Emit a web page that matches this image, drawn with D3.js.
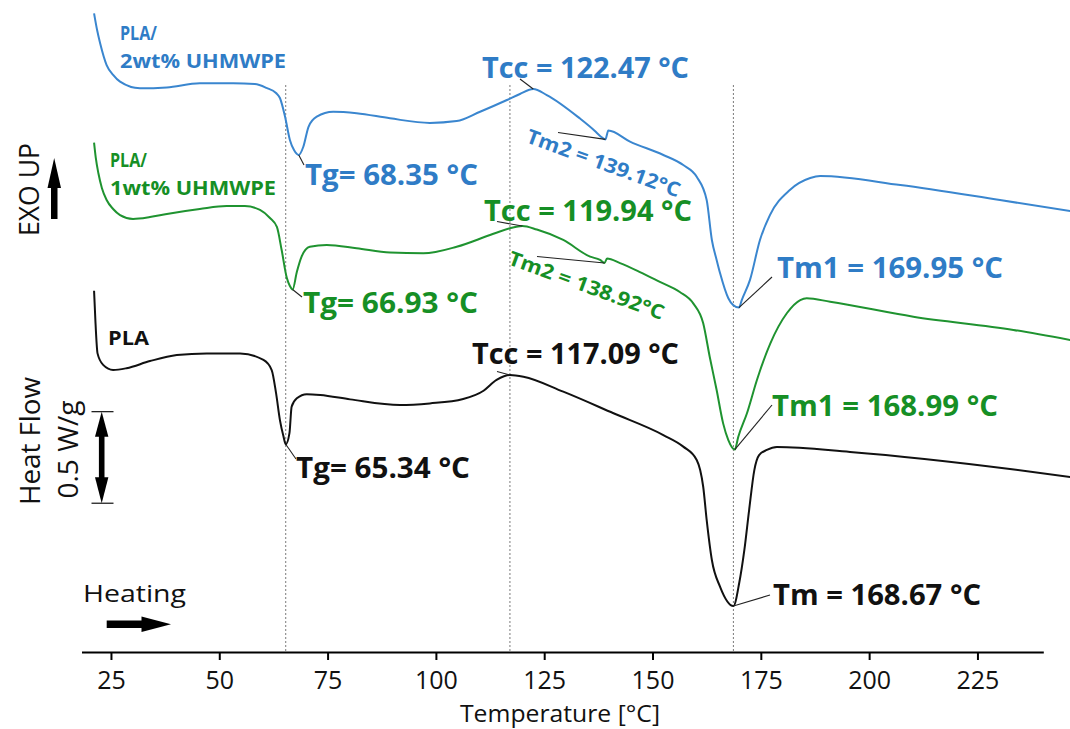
<!DOCTYPE html>
<html>
<head>
<meta charset="utf-8">
<script src="https://cdn.jsdelivr.net/npm/d3@7"></script>
<style>
  html, body { margin: 0; padding: 0; background: #fff; }
  svg { display: block; font-family: "Open Sans", "Noto Sans", sans-serif; }
</style>
</head>
<body>
<svg id="chart" width="1070" height="729"></svg>
<script>
// DSC heating curves, [temperature °C, heat flow W/g (stacked offset)]
const pla2wt = [
  [21.1,3.486],[21.8,3.395],[22.5,3.323],[24.0,3.204],[25.5,3.150],[27.1,3.113],[31.7,3.077],
  [37.9,3.082],[45.5,3.104],[53.2,3.104],[58.2,3.100],[60.9,3.079],[63.1,3.051],[64.0,3.024],
  [65.2,2.920],[66.3,2.795],[67.25,2.740],[68.35,2.713],[69.4,2.758],[70.6,2.867],[72.5,2.922],
  [76.3,2.949],[81.7,2.941],[89.4,2.913],[98.6,2.888],[104.8,2.898],[110.2,2.949],[116.4,3.013],
  [119.4,3.046],[122.47,3.073],[125.6,3.040],[133.2,2.913],[136.7,2.844],[137.9,2.817],
  [139.12,2.798],[139.8,2.846],[144.8,2.786],[152.5,2.713],[157.1,2.658],[160.2,2.594],
  [162.5,2.467],[163.7,2.249],[164.8,2.140],[165.6,2.067],[167.5,1.931],[168.6,1.894],
  [169.95,1.880],[170.6,1.921],[172.5,2.031],[174.8,2.249],[177.1,2.385],[181.7,2.522],
  [186.4,2.587],[188.7,2.598],[207.2,2.549],[230.2,2.467],[246.4,2.407]
];
const pla1wt = [
  [21.1,2.780],[21.5,2.697],[22.1,2.613],[22.9,2.533],[24.0,2.467],[25.5,2.418],[27.1,2.385],
  [30.1,2.364],[34.0,2.374],[37.9,2.391],[45.5,2.418],[51.7,2.434],[55.9,2.434],[59.4,2.413],
  [61.7,2.369],[63.3,2.320],[64.4,2.194],[65.6,2.041],[66.3,1.998],[66.93,1.979],[67.9,2.074],
  [69.0,2.158],[70.9,2.212],[74.8,2.222],[81.7,2.204],[89.4,2.180],[97.1,2.176],[104.8,2.212],
  [112.5,2.276],[117.1,2.313],[119.94,2.325],[123.3,2.306],[129.4,2.249],[135.6,2.158],
  [137.9,2.140],[138.92,2.123],[139.5,2.148],[142.5,2.123],[147.1,2.074],[151.7,2.020],
  [156.3,1.965],[159.4,1.903],[161.7,1.794],[163.2,1.612],[164.8,1.430],[166.3,1.248],
  [167.5,1.157],[168.99,1.105],[169.8,1.175],[171.8,1.303],[174.1,1.485],[177.2,1.685],
  [181.0,1.849],[184.1,1.921],[185.6,1.931],[191.0,1.912],[210.2,1.830],[233.3,1.758],[246.4,1.703]
];
const plaNeat = [
  [21.1,1.972],[21.4,1.812],[21.9,1.630],[23.2,1.567],[25.5,1.539],[28.6,1.549],[34.0,1.588],
  [40.2,1.621],[47.1,1.630],[54.8,1.630],[60.2,1.594],[62.1,1.539],[63.1,1.414],[64.0,1.266],
  [64.8,1.179],[65.34,1.134],[66.2,1.195],[66.7,1.339],[67.9,1.385],[70.2,1.407],[73.3,1.403],
  [80.2,1.379],[91.7,1.348],[98.6,1.357],[106.3,1.381],[111.0,1.426],[114.0,1.485],[117.09,1.512],
  [120.2,1.503],[129.4,1.421],[141.0,1.303],[152.5,1.184],[157.1,1.121],[160.2,1.048],
  [161.0,0.993],[161.7,0.902],[162.5,0.721],[163.7,0.502],[165.6,0.356],[168.67,0.251],
  [170.0,0.375],[171.2,0.557],[172.3,0.775],[173.5,0.993],[174.6,1.075],[176.4,1.103],
  [178.7,1.119],[195.6,1.092],[232.5,0.999],[246.4,0.955]
];

const xTicks = [25, 50, 75, 100, 125, 150, 175, 200, 225];
const seriesNames = ["PLA2", "PLA1", "PLA"];
const seriesLegend = [["PLA/", "2wt% UHMWPE"], ["PLA/", "1wt% UHMWPE"], ["PLA"]];
// reference temperatures of neat PLA marked by dotted guides
const guideTemps = [65.34, 117.09, 168.67];
// thermal events: series, event name, temperature
const events = [
  ["PLA2", "Tg", 68.35], ["PLA2", "Tcc", 122.47], ["PLA2", "Tm2", 139.12], ["PLA2", "Tm1", 169.95],
  ["PLA1", "Tg", 66.93], ["PLA1", "Tcc", 119.94], ["PLA1", "Tm2", 138.92], ["PLA1", "Tm1", 168.99],
  ["PLA", "Tg", 65.34], ["PLA", "Tcc", 117.09], ["PLA", "Tm", 168.67]
];
const scaleBarWg = 0.5;

// ---- presentation ----
const colors = { PLA2: "#2f7cc6", PLA1: "#168f25", PLA: "#111111" };
const lineColors = { PLA2: "#3a86cf", PLA1: "#1f9330", PLA: "#111111" };
const curves = { PLA2: pla2wt, PLA1: pla1wt, PLA: plaNeat };

// label placement: text start (x, baseline y), fitted width, leader end, rotation
const labelLayout = {
  "PLA2-Tg":  { x: 305, y: 185, w: 173, lx: 304, ly: 165 },
  "PLA2-Tcc": { x: 482, y: 78,  w: 207, lx: 520, ly: 79 },
  "PLA2-Tm2": { x: 525, y: 142, w: 162, lx: 558, ly: 132.5, rot: 20, size: 20 },
  "PLA2-Tm1": { x: 777, y: 278, w: 226, lx: 772, ly: 277 },
  "PLA1-Tg":  { x: 303, y: 313, w: 175, lx: 302, ly: 297 },
  "PLA1-Tcc": { x: 484, y: 221, w: 208, lx: 497, ly: 221.5 },
  "PLA1-Tm2": { x: 507, y: 264, w: 164, lx: 537, ly: 256.5, rot: 20, size: 20 },
  "PLA1-Tm1": { x: 772, y: 416, w: 226, lx: 772, ly: 405 },
  "PLA-Tg":   { x: 296, y: 478, w: 174, lx: 296, ly: 459 },
  "PLA-Tcc":  { x: 472, y: 364, w: 207, lx: 497, ly: 371.5 },
  "PLA-Tm":   { x: 773, y: 605, w: 208, lx: 770, ly: 595 }
};
const legendLayout = {
  PLA2: { x: 120, y: 39.5, dy: 28.5, w: [37, 166] },
  PLA1: { x: 110, y: 166.5, dy: 28, w: [37, 166] },
  PLA:  { x: 108, y: 345, dy: 0, w: [41] }
};

const svg = d3.select("#chart");

const x = d3.scaleLinear().domain([18.2, 240.2]).range([81.5, 1043.3]);
const y = d3.scaleLinear().domain([0, 3.5]).range([652, 10.8]);

// dotted guides
svg.append("g").selectAll("line").data(guideTemps).join("line")
  .attr("x1", d => x(d)).attr("x2", d => x(d))
  .attr("y1", 85).attr("y2", y(0))
  .attr("stroke", "#7a7a7a").attr("stroke-width", 1)
  .attr("stroke-dasharray", "2,2");

// x axis
const axis = d3.axisBottom(x).tickValues(xTicks).tickSize(8).tickSizeOuter(0);
const gx = svg.append("g").attr("transform", `translate(0,${y(0)})`).call(axis);
gx.select(".domain").attr("stroke", "#000").attr("stroke-width", 2.2);
gx.selectAll(".tick line").attr("stroke", "#000").attr("stroke-width", 2);
gx.selectAll(".tick text")
  .attr("y", 37).attr("dy", 0)
  .attr("font-size", 25).attr("fill", "#111")
  .attr("font-family", "'Open Sans', sans-serif");

svg.append("text")
  .attr("x", 560).attr("y", 722).attr("text-anchor", "middle")
  .attr("font-size", 24).attr("fill", "#111")
  .attr("textLength", 200).attr("lengthAdjust", "spacingAndGlyphs")
  .text("Temperature [°C]");

// curves
const line = d3.line().x(d => x(d[0])).y(d => y(d[1])).curve(d3.curveMonotoneX);
svg.append("g").selectAll("path").data(seriesNames).join("path")
  .attr("d", s => line(curves[s]))
  .attr("fill", "none")
  .attr("stroke", s => lineColors[s])
  .attr("stroke-width", 2)
  .attr("stroke-linejoin", "round");

// event labels with leader lines
const valueAt = (s, t) => {
  const pt = curves[s].find(p => p[0] === t);
  return pt ? pt[1] : 0;
};
const labelText = (name, t) => {
  if (name === "Tg") return `Tg= ${t.toFixed(2)} °C`;
  if (name === "Tm2") return `Tm2 = ${t.toFixed(2)}°C`;
  return `${name} = ${t.toFixed(2)} °C`;
};
const gEv = svg.append("g");
events.forEach(([s, name, t]) => {
  const L = labelLayout[`${s}-${name}`];
  gEv.append("line")
    .attr("x1", x(t)).attr("y1", y(valueAt(s, t)))
    .attr("x2", L.lx).attr("y2", L.ly)
    .attr("stroke", "#222").attr("stroke-width", 1.1);
  const txt = gEv.append("text")
    .attr("fill", colors[s])
    .attr("font-weight", 700)
    .attr("font-size", L.size || 28)
    .attr("textLength", L.w).attr("lengthAdjust", "spacingAndGlyphs")
    .text(labelText(name, t));
  if (L.rot) txt.attr("transform", `translate(${L.x},${L.y}) rotate(${L.rot})`);
  else txt.attr("x", L.x).attr("y", L.y);
});

// series names
seriesNames.forEach((s, i) => {
  const L = legendLayout[s];
  seriesLegend[i].forEach((ln, j) => {
    svg.append("text")
      .attr("x", L.x).attr("y", L.y + j * L.dy)
      .attr("fill", colors[s]).attr("font-weight", 700).attr("font-size", 19.5)
      .attr("textLength", L.w[j]).attr("lengthAdjust", "spacingAndGlyphs")
      .text(ln);
  });
});

// y-side annotations
svg.append("text")
  .attr("transform", "translate(38.5,236) rotate(-90)")
  .attr("font-size", 28).attr("fill", "#111")
  .attr("textLength", 93).attr("lengthAdjust", "spacingAndGlyphs")
  .text("EXO UP");
svg.append("rect").attr("x", 51).attr("y", 184).attr("width", 6.5).attr("height", 35).attr("fill", "#000");
svg.append("path").attr("d", "M47.5,188 L54.2,158 L61,188 Z").attr("fill", "#000");

svg.append("text")
  .attr("transform", "translate(40,505) rotate(-90)")
  .attr("font-size", 28).attr("fill", "#111")
  .attr("textLength", 128).attr("lengthAdjust", "spacingAndGlyphs")
  .text("Heat Flow");
svg.append("text")
  .attr("transform", "translate(77.5,498.5) rotate(-90)")
  .attr("font-size", 28).attr("fill", "#111")
  .attr("textLength", 98).attr("lengthAdjust", "spacingAndGlyphs")
  .text(`${scaleBarWg} W/g`);

// heat-flow scale bar
const barLow = 0.812;
const yb0 = y(barLow), yb1 = y(barLow + scaleBarWg);
const bx = 101.7;
const gBar = svg.append("g");
[yb0, yb1].forEach(v => gBar.append("line")
  .attr("x1", 91.5).attr("x2", 113.5).attr("y1", v).attr("y2", v)
  .attr("stroke", "#222").attr("stroke-width", 1.3));
gBar.append("rect").attr("x", bx - 2.8).attr("y", yb1 + 22).attr("width", 5.6)
  .attr("height", (yb0 - yb1) - 44).attr("fill", "#000");
gBar.append("path").attr("d", `M${bx - 6.7},${yb1 + 25} L${bx},${yb1} L${bx + 6.7},${yb1 + 25} Z`).attr("fill", "#000");
gBar.append("path").attr("d", `M${bx - 6.7},${yb0 - 26} L${bx},${yb0} L${bx + 6.7},${yb0 - 26} Z`).attr("fill", "#000");

// heating direction
svg.append("text")
  .attr("x", 83).attr("y", 602)
  .attr("font-size", 24).attr("fill", "#111")
  .attr("textLength", 103).attr("lengthAdjust", "spacingAndGlyphs")
  .text("Heating");
svg.append("rect").attr("x", 106.7).attr("y", 620.5).attr("width", 36).attr("height", 7.5).attr("fill", "#000");
svg.append("path").attr("d", "M141.5,616.5 L171,624.2 L141.5,632 Z").attr("fill", "#000");
</script>
</body>
</html>
